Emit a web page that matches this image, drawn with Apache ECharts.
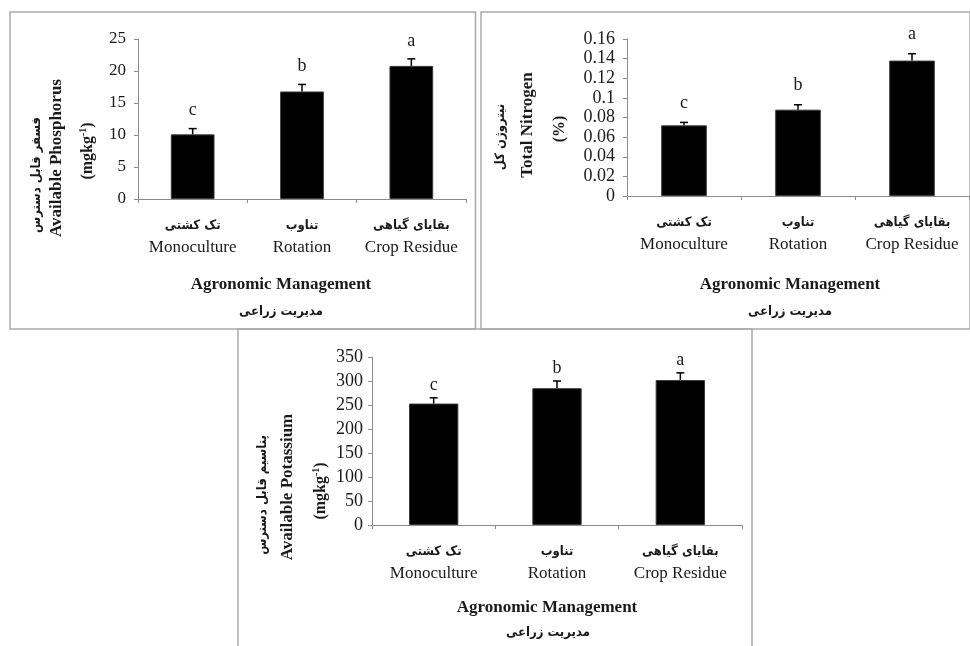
<!DOCTYPE html>
<html>
<head>
<meta charset="utf-8">
<script src="https://cdn.jsdelivr.net/npm/echarts@6/dist/echarts.min.js"></script>
<style>html,body{margin:0;padding:0;background:#fff;}#chart{width:970px;height:646px;}</style>
</head>
<body>
<div id="chart"></div>
<script>
// ---- data ----
const categoriesEn = ['Monoculture', 'Rotation', 'Crop Residue'];
const categoriesFa = ['تک کشتی', 'تناوب', 'بقایای گیاهی'];
const letters = ['c', 'b', 'a'];

const phosphorus = [10.1, 16.8, 20.8];
const phosphorusErr = [0.9, 1.1, 1.1];
const phosphorusTicks = { min: 0, max: 25, interval: 5 };

const nitrogen = [0.072, 0.088, 0.138];
const nitrogenErr = [0.003, 0.005, 0.007];
const nitrogenTicks = { min: 0, max: 0.16, interval: 0.02 };

const potassium = [253, 285, 302];
const potassiumErr = [12, 15, 15];
const potassiumTicks = { min: 0, max: 350, interval: 50 };

const xTitleEn = 'Agronomic Management';
const xTitleFa = 'مدیریت زراعی';

// ---- chart ----
const SERIF = '"Liberation Serif", "Times New Roman", serif';
const FA = '"DejaVu Sans Condensed", "DejaVu Sans", sans-serif';
const TXT = '#1a1a1a';
const AXC = '#8c8c8c';

const chart = echarts.init(document.getElementById('chart'), null, { renderer: 'canvas' });

function xAxisCfg(gridIndex) {
  return {
    type: 'category', gridIndex: gridIndex, data: categoriesEn,
    axisLine: { lineStyle: { color: AXC, width: 1 } },
    axisTick: { show: true, length: 4, lineStyle: { color: AXC } },
    axisLabel: {
      margin: 16, interval: 0, hideOverlap: false,
      formatter: function (v, i) { return '{fa|' + categoriesFa[i] + '}\n{en|' + v + '}'; },
      rich: {
        fa: { fontFamily: FA, fontSize: 13, fontWeight: 'bold', color: TXT, lineHeight: 22 },
        en: { fontFamily: SERIF, fontSize: 17, color: TXT, lineHeight: 22 }
      }
    }
  };
}
function yAxisCfg(gridIndex, t, size, margin) {
  return {
    type: 'value', gridIndex: gridIndex, min: t.min, max: t.max, interval: t.interval,
    splitLine: { show: false },
    axisLine: { show: true, lineStyle: { color: AXC, width: 1 } },
    axisTick: { show: true, length: 4, lineStyle: { color: AXC } },
    axisLabel: { fontFamily: SERIF, fontSize: size, color: TXT, margin: margin, hideOverlap: false }
  };
}
function barSeries(idx, values) {
  return {
    type: 'bar', xAxisIndex: idx, yAxisIndex: idx, data: values, barWidth: '40%',
    itemStyle: { color: '#000', borderColor: '#3a3a3a', borderWidth: 1 },
    silent: true, z: 2
  };
}
function errSeries(idx, values, errs, gap) {
  const data = values.map(function (v, i) { return [i, v, errs[i]]; });
  return {
    type: 'custom', xAxisIndex: idx, yAxisIndex: idx, data: data, z: 5, silent: true,
    encode: { x: 0, y: 1 },
    renderItem: function (params, api) {
      const i = api.value(0), v = api.value(1), e = api.value(2);
      const base = api.coord([i, v]);
      const top = api.coord([i, v + e]);
      const cap = 4;
      return {
        type: 'group',
        children: [
          { type: 'line', shape: { x1: base[0], y1: base[1], x2: top[0], y2: top[1] }, style: { stroke: '#000', lineWidth: 1.5 } },
          { type: 'line', shape: { x1: top[0] - cap, y1: top[1], x2: top[0] + cap, y2: top[1] }, style: { stroke: '#000', lineWidth: 1.5 } },
          { type: 'text', x: top[0], y: top[1] - gap, style: { text: letters[i], font: '18px ' + SERIF, fill: TXT, align: 'center', verticalAlign: 'middle' } }
        ]
      };
    }
  };
}

function rotTitle(x, y, text, font, rich) {
  const st = { text: text, font: font, fill: TXT, align: 'center', verticalAlign: 'middle' };
  if (rich) st.rich = rich;
  return { type: 'text', x: x, y: y, rotation: Math.PI / 2, style: st, z: 10 };
}
function hTitle(x, y, text, font) {
  return { type: 'text', x: x, y: y, style: { text: text, font: font, fill: TXT, align: 'center', verticalAlign: 'middle' }, z: 10 };
}
const unitRich = {
  a: { fontFamily: SERIF, fontSize: 16, fontWeight: 'bold', color: TXT, lineHeight: 18, verticalAlign: 'bottom' },
  s: { fontFamily: SERIF, fontSize: 10, fontWeight: 'bold', color: TXT, lineHeight: 18, verticalAlign: 'top' }
};
const unitText = '{a|(mgkg}{s|-1}{a|)}';
const faBold = 'bold 13px ' + FA;
const enBold = 'bold 17px ' + SERIF;

const option = {
  backgroundColor: '#fff',
  animation: false,
  grid: [
    { left: 138, top: 39, width: 328, height: 160 },
    { left: 627, top: 39, width: 342, height: 157 },
    { left: 372, top: 357, width: 370, height: 168 }
  ],
  xAxis: [xAxisCfg(0), xAxisCfg(1), xAxisCfg(2)],
  yAxis: [
    yAxisCfg(0, phosphorusTicks, 17, 12),
    yAxisCfg(1, nitrogenTicks, 18, 12),
    yAxisCfg(2, potassiumTicks, 18, 9)
  ],
  series: [
    barSeries(0, phosphorus), errSeries(0, phosphorus, phosphorusErr, 18),
    barSeries(1, nitrogen), errSeries(1, nitrogen, nitrogenErr, 19),
    barSeries(2, potassium), errSeries(2, potassium, potassiumErr, 13)
  ],
  graphic: [
    // panel frames
    { type: 'rect', shape: { x: 10, y: 12, width: 465.5, height: 317 }, style: { fill: 'none', stroke: '#ababab', lineWidth: 1.5 }, z: 0 },
    { type: 'rect', shape: { x: 481, y: 12, width: 489, height: 317 }, style: { fill: 'none', stroke: '#ababab', lineWidth: 1.5 }, z: 0 },
    { type: 'rect', shape: { x: 238, y: 329, width: 514, height: 330 }, style: { fill: 'none', stroke: '#ababab', lineWidth: 1.5 }, z: 0 },
    // panel 1 titles
    rotTitle(37, 175, 'فسفر قابل دسترس', faBold),
    rotTitle(57, 158, 'Available Phosphorus', enBold),
    rotTitle(87, 151, unitText, '16px ' + SERIF, unitRich),
    hTitle(281, 285, xTitleEn, enBold),
    hTitle(281, 312, xTitleFa, faBold),
    // panel 2 titles
    rotTitle(501, 137, 'نیتروژن کل', faBold),
    rotTitle(528, 125, 'Total Nitrogen', enBold),
    rotTitle(560, 129, '(%)', 'bold 16px ' + SERIF),
    hTitle(790, 285, xTitleEn, enBold),
    hTitle(790, 312, xTitleFa, faBold),
    // panel 3 titles
    rotTitle(263, 495, 'پتاسیم قابل دسترس', faBold),
    rotTitle(288, 487, 'Available Potassium', enBold),
    rotTitle(320, 491, unitText, '16px ' + SERIF, unitRich),
    hTitle(547, 608, xTitleEn, enBold),
    hTitle(548, 633, xTitleFa, faBold)
  ]
};
chart.setOption(option);
</script>
</body>
</html>
